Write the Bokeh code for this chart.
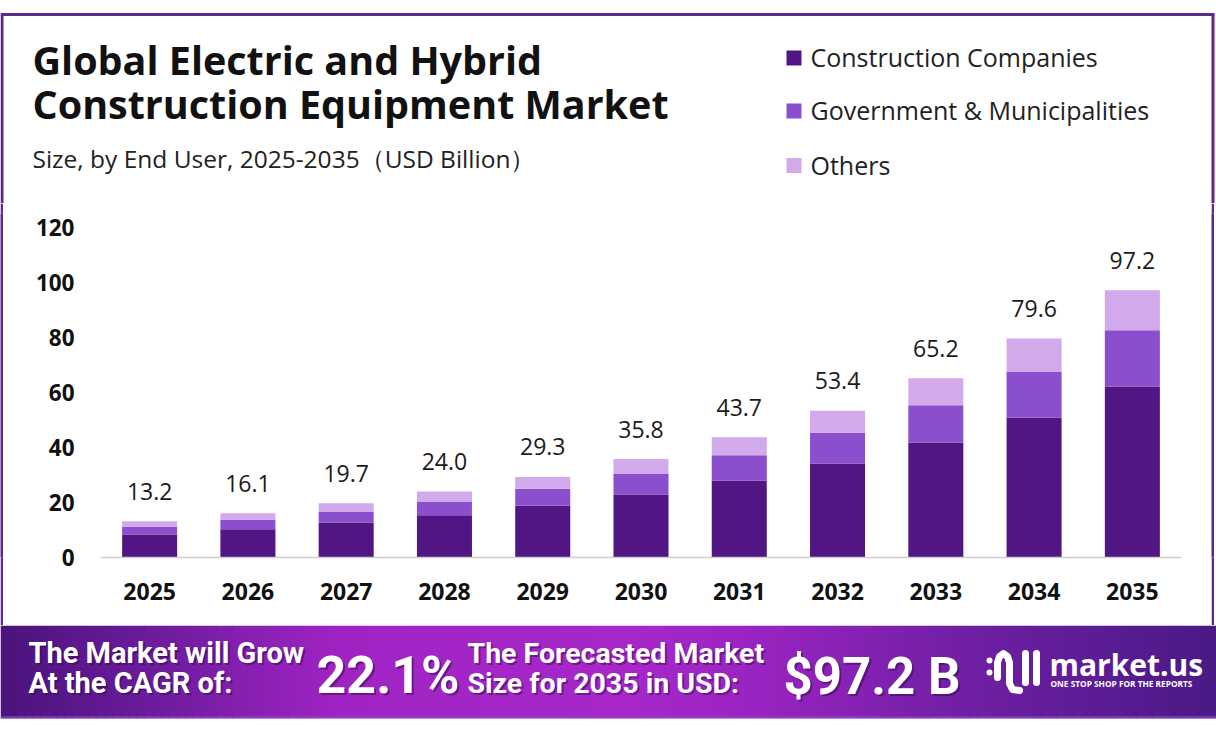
import numpy as np
from bokeh.plotting import figure
from bokeh.models import ColumnDataSource, Range1d, FactorRange, FixedTicker
from bokeh.layouts import column, row
from bokeh.core.properties import value
from bokeh.embed import file_html
from bokeh.resources import INLINE

# ---------------- data ----------------
years = ["2025", "2026", "2027", "2028", "2029", "2030", "2031", "2032", "2033", "2034", "2035"]
construction_companies = [8.4, 10.3, 12.6, 15.4, 18.8, 22.9, 28.0, 34.2, 41.7, 50.9, 62.2]
government_municipalities = [2.8, 3.4, 4.1, 5.0, 6.2, 7.5, 9.2, 11.2, 13.7, 16.7, 20.4]
others = [2.0, 2.4, 3.0, 3.6, 4.3, 5.4, 6.5, 8.0, 9.8, 12.0, 14.6]
totals = [13.2, 16.1, 19.7, 24.0, 29.3, 35.8, 43.7, 53.4, 65.2, 79.6, 97.2]
series_names = ["Construction Companies", "Government & Municipalities", "Others"]
series_colors = ["#511684", "#8b4fcd", "#d2a9ea"]
y_ticks = [0, 20, 40, 60, 80, 100, 120]

title_lines = ["Global Electric and Hybrid", "Construction Equipment Market"]
subtitle = "Size, by End User, 2025-2035（USD Billion）"
cagr_text = ["The Market will Grow", "At the CAGR of:"]
cagr_value = "22.1%"
forecast_text = ["The Forecasted Market", "Size for 2035 in USD:"]
forecast_value = "$97.2 B"

FONT = "Open Sans"
BANNER_FONT = "Roboto"
BORDER = "#5d2a87"
W = 1216
SHIFT = 0.36  # baseline correction for svg text placement


def txt(p, x, y, s, size, color="#111111", bold=False, font=FONT, align="left",
        alpha=1.0, xo=0, yo=0):
    p.text(x=[x], y=[y], text=[s], text_font=value(font), text_font_size=f"{size}px",
           text_font_style="bold" if bold else "normal", text_color=color,
           text_align=align, text_baseline="alphabetic", text_alpha=alpha,
           x_offset=xo, y_offset=yo - SHIFT * size)


def blank_fig(width, height):
    p = figure(width=width, height=height, x_range=Range1d(0, width), y_range=Range1d(height, 0),
               output_backend="svg", toolbar_location=None, x_axis_type=None, y_axis_type=None,
               min_border=0, min_border_left=0, min_border_right=0, min_border_top=0,
               min_border_bottom=0, outline_line_color=None, title=None)
    p.grid.visible = False
    return p


# ---------------- header ----------------
HH = 203
header = blank_fig(W, HH)
header.segment(x0=[0], y0=[14], x1=[1214], y1=[14], line_color=BORDER, line_width=3)
header.segment(x0=[1.5, 1212.5], y0=[14, 14], x1=[1.5, 1212.5], y1=[HH, HH],
               line_color=BORDER, line_width=3)
txt(header, 32, 74, title_lines[0], 39.5, color="#111111", bold=True)
txt(header, 32, 118, title_lines[1], 39.5, color="#111111", bold=True)
txt(header, 32, 167, subtitle, 24.5, color="#222222")

leg_y = [57.5, 110.5, 165]
for name, col, yy in zip(series_names, series_colors, leg_y):
    header.rect(x=[793.5], y=[yy], width=15, height=15, fill_color=col, line_color=None)
    txt(header, 810, yy + 8, name, 25, color="#222222")

# ---------------- chart ----------------
CH = 422
CW = 1208
src = ColumnDataSource(dict(year=years, cc=construction_companies, gov=government_municipalities,
                            oth=others, total=totals, label=[f"{t:.1f}" for t in totals]))

chart = figure(width=CW, height=CH, x_range=FactorRange(*years, range_padding=0),
               y_range=Range1d(0, 125.09), output_backend="svg", toolbar_location=None,
               min_border_left=97, min_border_right=30, min_border_top=10, min_border_bottom=68,
               outline_line_color=None, title=None)
chart.vbar_stack(["cc", "gov", "oth"], x="year", width=0.56, color=series_colors,
                 line_color=None, source=src)
chart.text(x="year", y="total", text="label", source=src, text_font=value(FONT),
           text_font_size="23px", text_color="#1a1a1a", text_align="center",
           text_baseline="alphabetic", y_offset=-30)

chart.grid.visible = False
chart.yaxis.ticker = FixedTicker(ticks=y_ticks)
chart.yaxis.axis_line_color = None
chart.yaxis.major_tick_line_color = None
chart.yaxis.minor_tick_line_color = None
chart.yaxis.major_tick_out = 0
chart.yaxis.major_tick_in = 0
chart.yaxis.major_label_standoff = 26
chart.yaxis.major_label_text_font = FONT
chart.yaxis.major_label_text_font_size = "22.5px"
chart.yaxis.major_label_text_font_style = "bold"
chart.yaxis.major_label_text_color = "#111111"

chart.xaxis.axis_line_color = "#cfcfcf"
chart.xaxis.axis_line_width = 1.5
chart.xaxis.major_tick_line_color = None
chart.xaxis.minor_tick_line_color = None
chart.xaxis.major_tick_out = 0
chart.xaxis.major_tick_in = 0
chart.xaxis.major_label_standoff = 25
chart.xaxis.major_label_text_font = FONT
chart.xaxis.major_label_text_font_size = "23px"
chart.xaxis.major_label_text_font_style = "bold"
chart.xaxis.major_label_text_color = "#111111"


def strip(width, height, color):
    p = blank_fig(width, height)
    p.background_fill_color = color
    p.border_fill_color = color
    return p


chart_row = row(strip(3, CH, BORDER), chart, strip(3, CH, BORDER), strip(2, CH, "#ffffff"),
                spacing=0)

# ---------------- banner ----------------
BH = 106
banner = blank_fig(W, BH)
stops_x = [0, 150, 335, 630, 770, 945, 1216]
stops_r = [0x4c, 0x6c, 0xa0, 0xa8, 0x98, 0x74, 0x4a]
stops_g = [0x14, 0x1c, 0x24, 0x28, 0x24, 0x20, 0x1a]
stops_b = [0x7c, 0x9c, 0xc4, 0xca, 0xc0, 0xa8, 0x86]
xs = np.arange(0, W, 8)
cols = []
for xv in xs + 4:
    r = int(np.interp(xv, stops_x, stops_r))
    g = int(np.interp(xv, stops_x, stops_g))
    b = int(np.interp(xv, stops_x, stops_b))
    cols.append(f"#{r:02x}{g:02x}{b:02x}")
banner.quad(left=xs, right=xs + 8.6, top=0, bottom=93, fill_color=cols, line_color=None)
banner.segment(x0=[0], y0=[91.5], x1=[W], y1=[91.5], line_color="#8a45c0", line_width=2,
               line_alpha=0.7)


def shadow_txt(p, x, y, s, size, font=BANNER_FONT, align="left"):
    txt(p, x, y, s, size, color="#2a0640", bold=True, font=font, align=align, alpha=0.45,
        xo=2, yo=2)
    txt(p, x, y, s, size, color="#ffffff", bold=True, font=font, align=align)


shadow_txt(banner, 28, 38, cagr_text[0], 29)
shadow_txt(banner, 28, 68, cagr_text[1], 29)
shadow_txt(banner, 316, 69, cagr_value, 52)
shadow_txt(banner, 467, 38, forecast_text[0], 28.5)
shadow_txt(banner, 467, 68, forecast_text[1], 28.5)
shadow_txt(banner, 783, 69, forecast_value, 51)

# logo
banner.scatter(x=[989, 989], y=[35, 47], size=6, fill_color="white", line_color=None)
banner.line(x=[997, 997, 999, 1003, 1007, 1009, 1009, 1012, 1019],
            y=[52, 37, 31, 28, 31, 37, 58, 64, 65], line_color="white", line_width=7,
            line_cap="round", line_join="round")
banner.segment(x0=[1025, 1036], y0=[28, 28], x1=[1025, 1036], y1=[57, 57],
               line_color="white", line_width=7, line_cap="round")
txt(banner, 1049, 50, "market.us", 30, color="#ffffff", bold=True, font=FONT)
txt(banner, 1050, 60.5, "ONE STOP SHOP FOR THE REPORTS", 8.3, color="#ffffff", bold=True,
    font=FONT)

layout = column(header, chart_row, banner, spacing=0)

open("out.html", "w").write(file_html(layout, INLINE))
